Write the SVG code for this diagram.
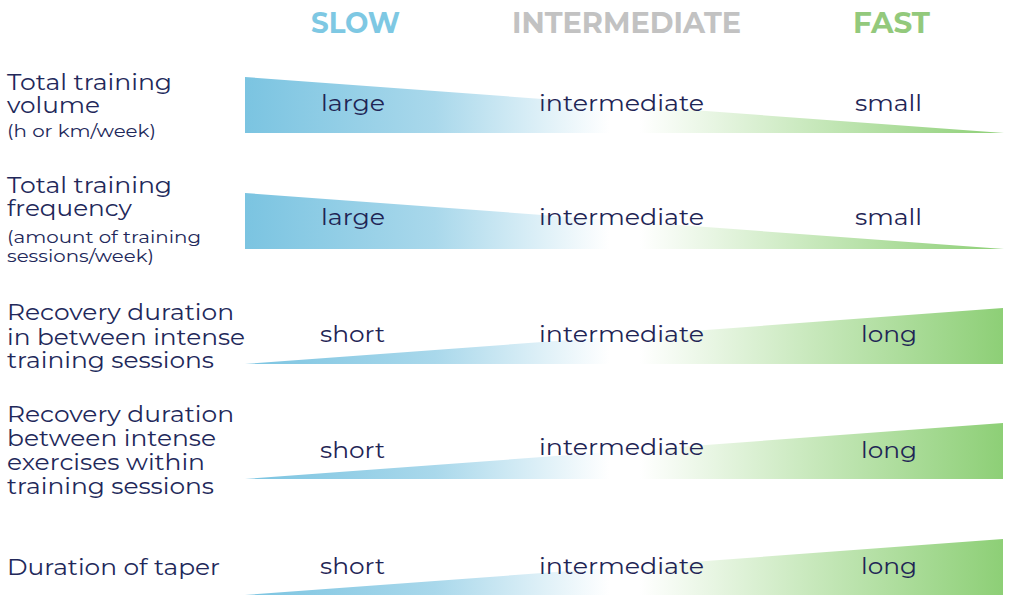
<svg xmlns="http://www.w3.org/2000/svg" width="1009" height="595" viewBox="0 0 1009 595">
<defs>
<linearGradient id="g" gradientUnits="userSpaceOnUse" x1="245" y1="0" x2="1004" y2="0">
<stop offset="0" stop-color="#7bc4e1"/>
<stop offset="0.25" stop-color="#a9d8eb"/>
<stop offset="0.48" stop-color="#ffffff"/>
<stop offset="0.52" stop-color="#ffffff"/>
<stop offset="0.75" stop-color="#c7e8bb"/>
<stop offset="1" stop-color="#8dcf76"/>
</linearGradient>
<style>
.h{font-family:"Montserrat","Roboto","Liberation Sans",sans-serif;font-weight:bold;font-size:29px}
.l{font-family:"Montserrat","Open Sans","Liberation Sans",sans-serif;font-size:23px;fill:#22285a}
.s{font-family:"Montserrat","Open Sans","Liberation Sans",sans-serif;font-size:17px;fill:#22285a}
.v{font-family:"Montserrat","Open Sans","Liberation Sans",sans-serif;font-size:23px;fill:#1f2555}
.w{fill:url(#g)}
</style>
</defs>
<g id="headers">
<text class="h" x="311" y="33" textLength="89" lengthAdjust="spacingAndGlyphs" fill="#7ec8e3">SLOW</text>
<text class="h" x="512" y="33" textLength="229" lengthAdjust="spacingAndGlyphs" fill="#c2c2c2">INTERMEDIATE</text>
<text class="h" x="853" y="33" textLength="77" lengthAdjust="spacingAndGlyphs" fill="#93c97c">FAST</text>
</g>
<g id="row1">
<text class="l" x="7" y="90" textLength="165" lengthAdjust="spacingAndGlyphs">Total training</text>
<text class="l" x="7" y="113" textLength="93" lengthAdjust="spacingAndGlyphs">volume</text>
<text class="s" x="7" y="137" textLength="149" lengthAdjust="spacingAndGlyphs">(h or km/week)</text>
<polygon class="w" points="245,77 1004,133 245,133"/>
<text class="v" x="321" y="111" textLength="64" lengthAdjust="spacingAndGlyphs">large</text>
<text class="v" x="539" y="111" textLength="165" lengthAdjust="spacingAndGlyphs">intermediate</text>
<text class="v" x="855" y="111" textLength="67" lengthAdjust="spacingAndGlyphs">small</text>
</g>
<g id="row2">
<text class="l" x="7" y="193" textLength="165" lengthAdjust="spacingAndGlyphs">Total training</text>
<text class="l" x="7" y="216" textLength="125" lengthAdjust="spacingAndGlyphs">frequency</text>
<text class="s" x="7" y="243" textLength="194" lengthAdjust="spacingAndGlyphs">(amount of training</text>
<text class="s" x="7" y="262" textLength="147" lengthAdjust="spacingAndGlyphs">sessions/week)</text>
<polygon class="w" points="245,193 1004,249 245,249"/>
<text class="v" x="321" y="225" textLength="64" lengthAdjust="spacingAndGlyphs">large</text>
<text class="v" x="539" y="225" textLength="165" lengthAdjust="spacingAndGlyphs">intermediate</text>
<text class="v" x="855" y="225" textLength="67" lengthAdjust="spacingAndGlyphs">small</text>
</g>
<g id="row3">
<text class="l" x="7" y="320" textLength="227" lengthAdjust="spacingAndGlyphs">Recovery duration</text>
<text class="l" x="7" y="345" textLength="238" lengthAdjust="spacingAndGlyphs">in between intense</text>
<text class="l" x="7" y="368" textLength="207" lengthAdjust="spacingAndGlyphs">training sessions</text>
<polygon class="w" points="245,364 1003,308 1003,364"/>
<text class="v" x="320" y="342" textLength="65" lengthAdjust="spacingAndGlyphs">short</text>
<text class="v" x="539" y="342" textLength="165" lengthAdjust="spacingAndGlyphs">intermediate</text>
<text class="v" x="861" y="342" textLength="56" lengthAdjust="spacingAndGlyphs">long</text>
</g>
<g id="row4">
<text class="l" x="7" y="422" textLength="227" lengthAdjust="spacingAndGlyphs">Recovery duration</text>
<text class="l" x="7" y="446" textLength="209" lengthAdjust="spacingAndGlyphs">between intense</text>
<text class="l" x="7" y="470" textLength="198" lengthAdjust="spacingAndGlyphs">exercises within</text>
<text class="l" x="7" y="494" textLength="207" lengthAdjust="spacingAndGlyphs">training sessions</text>
<polygon class="w" points="245,479 1003,423 1003,479"/>
<text class="v" x="320" y="458" textLength="65" lengthAdjust="spacingAndGlyphs">short</text>
<text class="v" x="539" y="455" textLength="165" lengthAdjust="spacingAndGlyphs">intermediate</text>
<text class="v" x="861" y="458" textLength="56" lengthAdjust="spacingAndGlyphs">long</text>
</g>
<g id="row5">
<text class="l" x="7" y="575" textLength="213" lengthAdjust="spacingAndGlyphs">Duration of taper</text>
<polygon class="w" points="245,595 1003,539 1003,595"/>
<text class="v" x="320" y="574" textLength="65" lengthAdjust="spacingAndGlyphs">short</text>
<text class="v" x="539" y="574" textLength="165" lengthAdjust="spacingAndGlyphs">intermediate</text>
<text class="v" x="861" y="574" textLength="56" lengthAdjust="spacingAndGlyphs">long</text>
</g>
</svg>
